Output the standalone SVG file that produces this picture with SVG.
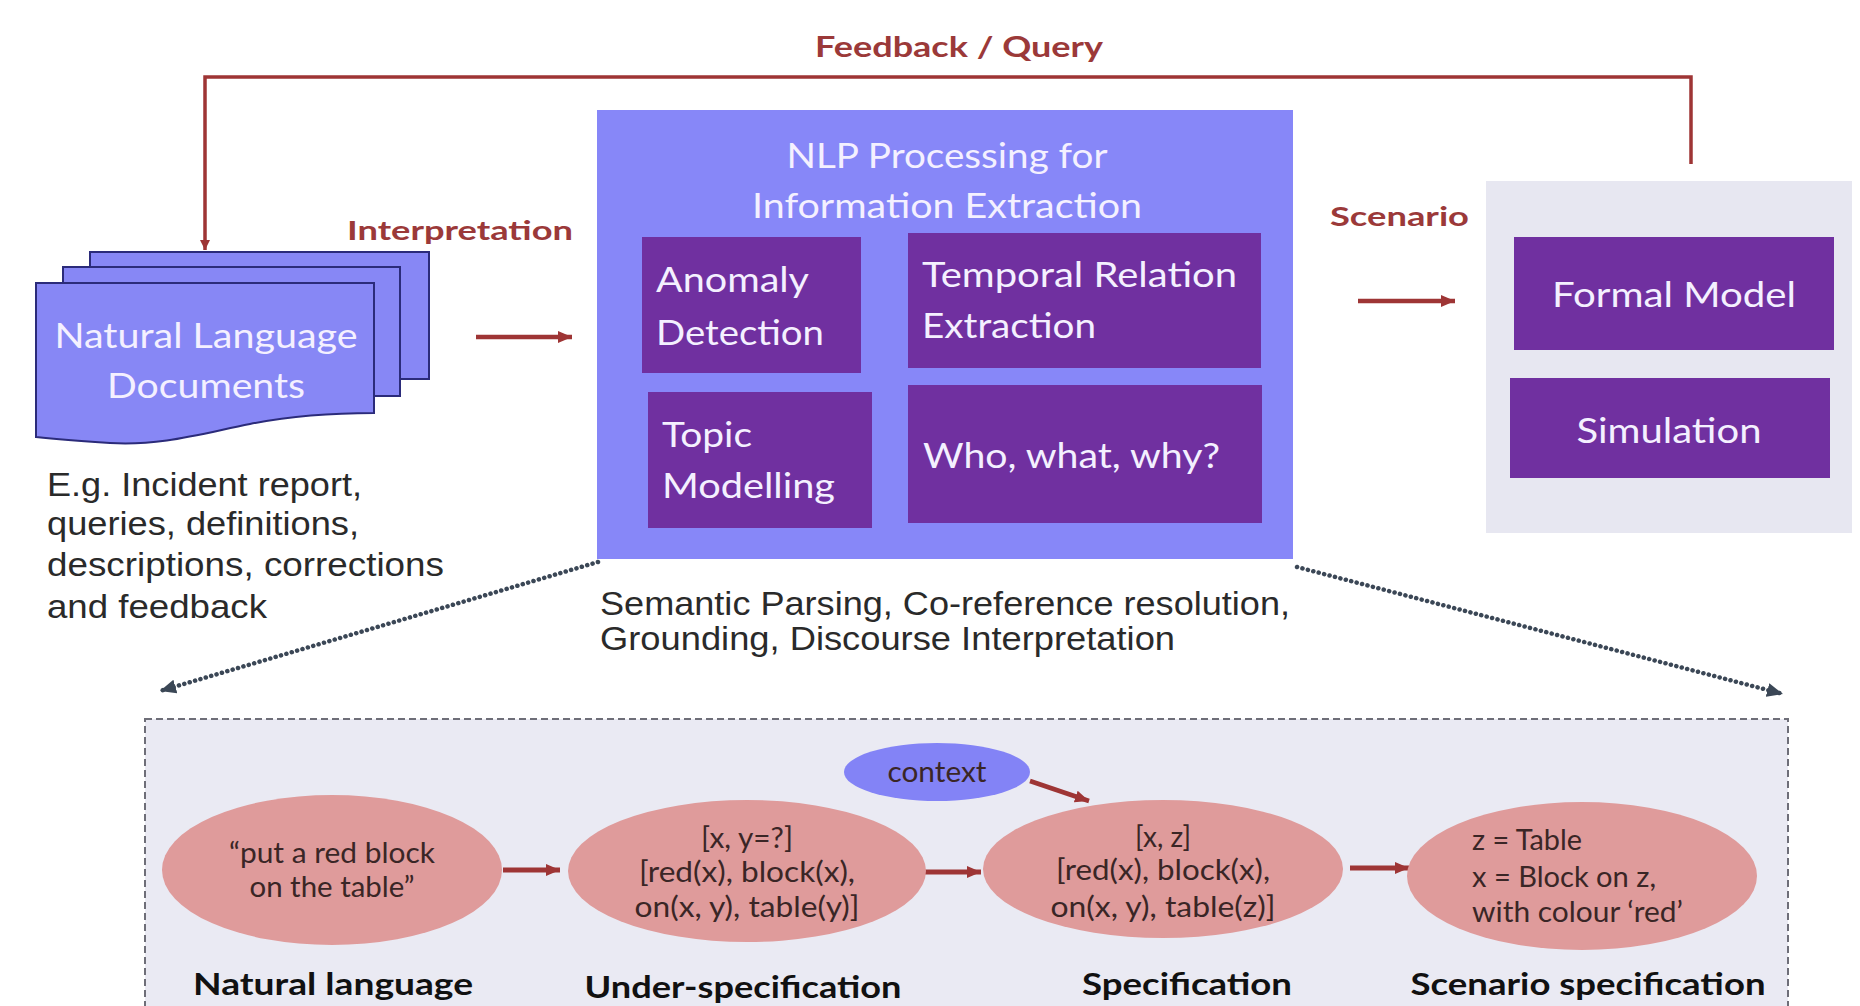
<svg xmlns="http://www.w3.org/2000/svg" width="1860" height="1006" viewBox="0 0 1860 1006">
<style>
.lbl{font-family:Lato,"Open Sans",sans-serif;font-weight:bold;fill:#9B3939;}
.wt{font-family:Lato,"Open Sans",sans-serif;fill:#F4F0FF;font-size:35px;}
.pur{fill:#7030A0;}
.plain{font-family:"Liberation Sans",Arial,sans-serif;fill:#2A2A2A;font-size:33px;}
.ell{fill:#DF9B9B;}
.et{font-family:Lato,"Open Sans",sans-serif;fill:#3A2626;font-size:28px;}
.cap{font-family:Lato,"Open Sans",sans-serif;font-weight:bold;fill:#111;font-size:31px;}
.red{stroke:#9E3535;fill:none;}
.dot{stroke:#3B4756;stroke-width:4.5;stroke-dasharray:0.1 5.5;stroke-linecap:round;fill:none;}
</style>
<defs>
<marker id="ah" markerUnits="userSpaceOnUse" markerWidth="16" markerHeight="14" refX="14" refY="7" orient="auto">
<path d="M0,1 L14,7 L0,13 Z" fill="#9E3535"/>
</marker>
<marker id="ahs" markerUnits="userSpaceOnUse" markerWidth="12" markerHeight="12" refX="10" refY="6" orient="auto">
<path d="M0,1 L10,6 L0,11 Z" fill="#9E3535"/>
</marker>
<marker id="ahd" markerUnits="userSpaceOnUse" markerWidth="18" markerHeight="16" refX="16" refY="8" orient="auto">
<path d="M0,1 L16,8 L0,15 Z" fill="#3B4756"/>
</marker>
</defs>
<rect width="1860" height="1006" fill="#FFFFFF"/>

<!-- Bottom detail panel -->
<g id="detail-panel">
<rect x="145" y="719" width="1643" height="300" fill="#EAEAF3" stroke="#6E6E78" stroke-width="2" stroke-dasharray="7 4"/>
</g>

<!-- Connectors -->
<g id="connectors">
<path class="red" stroke-width="3.5" d="M1691,164 V77 H205 V250" marker-end="url(#ahs)"/>
<line class="red" stroke-width="4.5" x1="476" y1="337" x2="572" y2="337" marker-end="url(#ah)"/>
<line class="red" stroke-width="4.5" x1="1358" y1="301" x2="1455" y2="301" marker-end="url(#ah)"/>
<path class="dot" d="M598,562 L160,691" marker-end="url(#ahd)"/>
<path class="dot" d="M1297,567 L1783,694" marker-end="url(#ahd)"/>
<line class="red" stroke-width="5" x1="503" y1="870" x2="560" y2="870" marker-end="url(#ah)"/>
<line class="red" stroke-width="5" x1="924" y1="872" x2="981" y2="872" marker-end="url(#ah)"/>
<line class="red" stroke-width="5" x1="1350" y1="868" x2="1409" y2="868" marker-end="url(#ah)"/>
<line class="red" stroke-width="4.5" x1="1030" y1="781" x2="1089" y2="801" marker-end="url(#ah)"/>
</g>

<!-- Edge labels -->
<g id="edge-labels">
<text class="lbl" x="815" y="57" font-size="29" textLength="288" lengthAdjust="spacingAndGlyphs">Feedback / Query</text>
<text class="lbl" x="347" y="240" font-size="27" textLength="226" lengthAdjust="spacingAndGlyphs">Interpretation</text>
<text class="lbl" x="1330" y="226" font-size="27" textLength="139" lengthAdjust="spacingAndGlyphs">Scenario</text>
</g>

<!-- Documents node -->
<g id="documents">
<rect x="90" y="252" width="339" height="127" fill="#8787F5" stroke="#2B2B7A" stroke-width="2"/>
<rect x="63" y="267" width="337" height="129" fill="#8787F5" stroke="#2B2B7A" stroke-width="2"/>
<path d="M36,283 H374 V413 C330,413 290,416 250,424 C200,434 160,446 110,443 C80,441 55,439 36,437 Z" fill="#8787F5" stroke="#2B2B7A" stroke-width="2"/>
<text class="wt" x="206" y="348" text-anchor="middle" textLength="303" lengthAdjust="spacingAndGlyphs">Natural Language</text>
<text class="wt" x="206" y="398" text-anchor="middle" textLength="198" lengthAdjust="spacingAndGlyphs">Documents</text>
</g>

<g id="documents-note">
<text class="plain" x="47" y="496" textLength="315" lengthAdjust="spacingAndGlyphs">E.g. Incident report,</text>
<text class="plain" x="47" y="535" textLength="312" lengthAdjust="spacingAndGlyphs">queries, definitions,</text>
<text class="plain" x="47" y="576" textLength="397" lengthAdjust="spacingAndGlyphs">descriptions, corrections</text>
<text class="plain" x="47" y="618" textLength="220" lengthAdjust="spacingAndGlyphs">and feedback</text>
</g>

<!-- NLP processing node -->
<g id="nlp">
<rect x="597" y="110" width="696" height="449" fill="#8787F8"/>
<text class="wt" x="947" y="168" text-anchor="middle" textLength="321" lengthAdjust="spacingAndGlyphs">NLP Processing for</text>
<text class="wt" x="947" y="218" text-anchor="middle" textLength="390" lengthAdjust="spacingAndGlyphs">Information Extraction</text>
</g>
<g id="anomaly">
<rect class="pur" x="642" y="237" width="219" height="136"/>
<text class="wt" x="656" y="292" textLength="153" lengthAdjust="spacingAndGlyphs">Anomaly</text>
<text class="wt" x="656" y="345" textLength="168" lengthAdjust="spacingAndGlyphs">Detection</text>
</g>
<g id="temporal">
<rect class="pur" x="908" y="233" width="353" height="135"/>
<text class="wt" x="922" y="287" textLength="315" lengthAdjust="spacingAndGlyphs">Temporal Relation</text>
<text class="wt" x="922" y="338" textLength="174" lengthAdjust="spacingAndGlyphs">Extraction</text>
</g>
<g id="topic">
<rect class="pur" x="648" y="392" width="224" height="136"/>
<text class="wt" x="662" y="447" textLength="90" lengthAdjust="spacingAndGlyphs">Topic</text>
<text class="wt" x="662" y="498" textLength="173" lengthAdjust="spacingAndGlyphs">Modelling</text>
</g>
<g id="who">
<rect class="pur" x="908" y="385" width="354" height="138"/>
<text class="wt" x="923" y="468" textLength="297" lengthAdjust="spacingAndGlyphs">Who, what, why?</text>
</g>
<g id="nlp-note">
<text class="plain" x="600" y="615" textLength="690" lengthAdjust="spacingAndGlyphs">Semantic Parsing, Co-reference resolution,</text>
<text class="plain" x="600" y="650" textLength="575" lengthAdjust="spacingAndGlyphs">Grounding, Discourse Interpretation</text>
</g>

<!-- Scenario panel -->
<g id="scenario-panel">
<rect x="1486" y="181" width="366" height="352" fill="#E7E7F1"/>
</g>
<g id="formal-model">
<rect class="pur" x="1514" y="237" width="320" height="113"/>
<text class="wt" x="1674" y="307" text-anchor="middle" textLength="244" lengthAdjust="spacingAndGlyphs">Formal Model</text>
</g>
<g id="simulation">
<rect class="pur" x="1510" y="378" width="320" height="100"/>
<text class="wt" x="1669" y="443" text-anchor="middle" textLength="185" lengthAdjust="spacingAndGlyphs">Simulation</text>
</g>

<!-- Bottom flow nodes -->
<g id="natural-language">
<ellipse class="ell" cx="332" cy="870" rx="170" ry="75"/>
<text class="et" x="332" y="863" text-anchor="middle" textLength="206" lengthAdjust="spacingAndGlyphs">“put a red block</text>
<text class="et" x="332" y="897" text-anchor="middle" textLength="165" lengthAdjust="spacingAndGlyphs">on the table”</text>
<text class="cap" x="333" y="995" text-anchor="middle" textLength="280" lengthAdjust="spacingAndGlyphs">Natural language</text>
</g>
<g id="under-specification">
<ellipse class="ell" cx="747" cy="871" rx="179" ry="71"/>
<text class="et" x="747" y="848" text-anchor="middle" textLength="92" lengthAdjust="spacingAndGlyphs">[x, y=?]</text>
<text class="et" x="747" y="882" text-anchor="middle" textLength="216" lengthAdjust="spacingAndGlyphs">[red(x), block(x),</text>
<text class="et" x="747" y="917" text-anchor="middle" textLength="225" lengthAdjust="spacingAndGlyphs">on(x, y), table(y)]</text>
<text class="cap" x="743" y="998" text-anchor="middle" textLength="317" lengthAdjust="spacingAndGlyphs">Under-specification</text>
</g>
<g id="context">
<ellipse cx="937" cy="772" rx="93" ry="29" fill="#8383F6"/>
<text class="et" x="937" y="782" text-anchor="middle" fill="#2E2E50" textLength="99" lengthAdjust="spacingAndGlyphs">context</text>
</g>
<g id="specification">
<ellipse class="ell" cx="1163" cy="869" rx="180" ry="69"/>
<text class="et" x="1163" y="847" text-anchor="middle" textLength="56" lengthAdjust="spacingAndGlyphs">[x, z]</text>
<text class="et" x="1163" y="880" text-anchor="middle" textLength="214" lengthAdjust="spacingAndGlyphs">[red(x), block(x),</text>
<text class="et" x="1163" y="917" text-anchor="middle" textLength="225" lengthAdjust="spacingAndGlyphs">on(x, y), table(z)]</text>
<text class="cap" x="1187" y="995" text-anchor="middle" textLength="210" lengthAdjust="spacingAndGlyphs">Specification</text>
</g>
<g id="scenario-specification">
<ellipse class="ell" cx="1582" cy="876" rx="175" ry="74"/>
<text class="et" x="1472" y="850" textLength="110" lengthAdjust="spacingAndGlyphs">z = Table</text>
<text class="et" x="1472" y="887" textLength="184" lengthAdjust="spacingAndGlyphs">x = Block on z,</text>
<text class="et" x="1472" y="922" textLength="211" lengthAdjust="spacingAndGlyphs">with colour ‘red’</text>
<text class="cap" x="1588" y="995" text-anchor="middle" textLength="355" lengthAdjust="spacingAndGlyphs">Scenario specification</text>
</g>
</svg>
